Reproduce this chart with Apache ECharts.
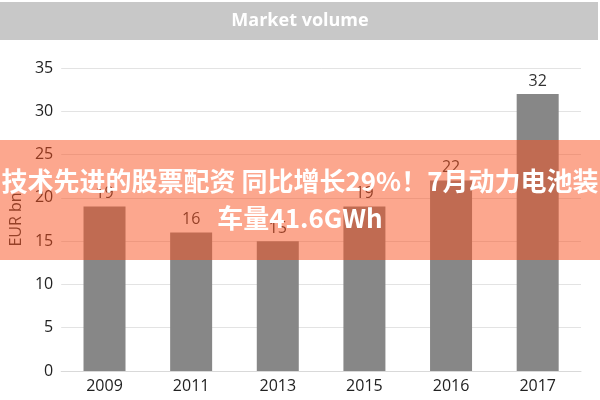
<!DOCTYPE html>
<html>
<head>
<meta charset="utf-8">
<script src="https://cdn.jsdelivr.net/npm/echarts@6/dist/echarts.min.js"></script>
<style>html,body{margin:0;padding:0;background:#fff}#c{width:600px;height:400px}</style>
</head>
<body>
<div id="c"></div>
<script>
const categories = ['2009', '2011', '2013', '2015', '2016', '2017'];
const values = [19, 16, 15, 19, 22, 32];
const titleText = 'Market volume';
const axisName = 'EUR bn';
const overlayLine1 = '技术先进的股票配资 同比增长29%！7月动力电池装';
const overlayLine2 = '车量41.6GWh';

const chart = echarts.init(document.getElementById('c'));
chart.setOption({
  animation: false,
  textStyle: { fontFamily: 'Open Sans' },
  grid: { left: 58, right: 19, top: 68, bottom: 29 },
  xAxis: {
    type: 'category', data: categories,
    axisLine: { lineStyle: { color: '#d9d9d9' } },
    axisTick: { show: false },
    axisLabel: { color: '#222', fontSize: 16, margin: 7 }
  },
  yAxis: {
    type: 'value', min: 0, max: 35, interval: 5,
    name: axisName, nameLocation: 'middle', nameGap: 36, nameRotate: 90,
    nameTextStyle: { color: '#333', fontSize: 16 },
    axisLine: { show: false }, axisTick: { show: false },
    axisLabel: { color: '#222', fontSize: 16, margin: 8 },
    splitLine: { lineStyle: { color: '#e3e3e3' } }
  },
  series: [{
    type: 'bar', data: values, barWidth: 42,
    itemStyle: { color: '#878787' },
    label: { show: true, position: 'top', color: '#333', fontSize: 16, distance: 5 }
  }],
  graphic: [
    { type: 'rect', left: 0, top: 2, shape: { width: 598, height: 38 }, style: { fill: '#c8c8c8' }, z: 1 },
    { type: 'text', x: 300, y: 21, style: { text: titleText, fill: '#fff', font: 'bold 18px "Open Sans"', textAlign: 'center', textVerticalAlign: 'middle' }, z: 2 },
    { type: 'rect', left: 0, top: 140, shape: { width: 600, height: 120 }, style: { fill: 'rgba(250,80,30,0.5)' }, z: 100 },
    { type: 'text', x: 300, y: 181, style: { text: overlayLine1, fill: '#fff', font: 'bold 26px "Noto Sans CJK SC"', textAlign: 'center', textVerticalAlign: 'middle' }, z: 101 },
    { type: 'text', x: 300, y: 218, style: { text: overlayLine2, fill: '#fff', font: 'bold 26px "Noto Sans CJK SC"', textAlign: 'center', textVerticalAlign: 'middle' }, z: 101 }
  ]
});
</script>
</body>
</html>
